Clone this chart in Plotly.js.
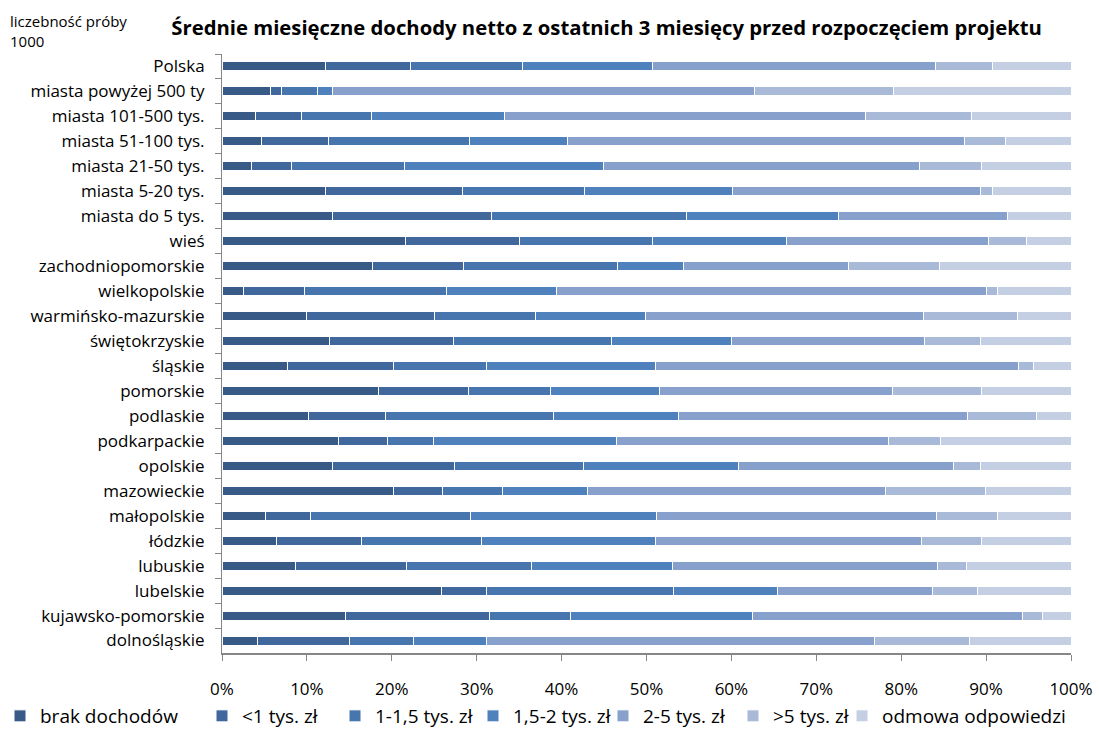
<!DOCTYPE html>
<html lang="pl">
<head>
<meta charset="utf-8">
<title>Średnie miesięczne dochody netto</title>
<script src="https://cdn.plot.ly/plotly-3.0.1.min.js"></script>
<style>
  html, body { margin: 0; padding: 0; background: #ffffff; }
  #chart { width: 1099px; height: 730px; }
</style>
</head>
<body>
<div id="chart"></div>
<script>
// Categories, top to bottom
const categories = [
  "Polska",
  "miasta powyżej 500 ty",
  "miasta 101-500 tys.",
  "miasta 51-100 tys.",
  "miasta 21-50 tys.",
  "miasta 5-20 tys.",
  "miasta do 5 tys.",
  "wieś",
  "zachodniopomorskie",
  "wielkopolskie",
  "warmińsko-mazurskie",
  "świętokrzyskie",
  "śląskie",
  "pomorskie",
  "podlaskie",
  "podkarpackie",
  "opolskie",
  "mazowieckie",
  "małopolskie",
  "łódzkie",
  "lubuskie",
  "lubelskie",
  "kujawsko-pomorskie",
  "dolnośląskie"
];

// Shares (%) per income bracket, same order as categories
const brakDochodow = [12.2, 5.7, 3.9, 4.7, 3.5, 12.2, 13.0, 21.6, 17.7, 2.5, 9.9, 12.7, 7.7, 18.4, 10.2, 13.7, 13.0, 20.2, 5.1, 6.4, 8.6, 25.8, 14.5, 4.2];
const ponizej1  = [10.0, 1.3, 5.5, 7.8, 4.7, 16.1, 18.7, 13.4, 10.7, 7.2, 15.1, 14.6, 12.5, 10.6, 9.0, 5.8, 14.4, 5.8, 5.3, 10.0, 13.1, 5.3, 17.0, 10.8];
const od1do15   = [13.2, 4.2, 8.2, 16.7, 13.3, 14.4, 23.0, 15.7, 18.2, 16.8, 11.9, 18.6, 11.0, 9.7, 19.8, 5.4, 15.2, 7.0, 18.9, 14.2, 14.8, 22.1, 9.5, 7.5];
const od15do2   = [15.3, 1.8, 15.7, 11.5, 23.4, 17.4, 17.9, 15.8, 7.8, 12.9, 13.0, 14.1, 19.9, 12.8, 14.8, 21.6, 18.2, 10.0, 21.9, 20.5, 16.6, 12.2, 21.5, 8.7];
const od2do5    = [33.3, 49.7, 42.5, 46.8, 37.2, 29.2, 19.9, 23.8, 19.4, 50.7, 32.7, 22.8, 42.7, 27.5, 34.0, 32.0, 25.4, 35.1, 32.9, 31.3, 31.2, 18.3, 31.8, 45.6];
const powyzej5  = [6.7, 16.4, 12.5, 4.8, 7.4, 1.5, 0.0, 4.5, 10.7, 1.2, 11.1, 6.5, 1.8, 10.4, 8.1, 6.1, 3.1, 11.8, 7.3, 7.1, 3.4, 5.3, 2.3, 11.2];
const odmowa    = [9.3, 21.0, 11.7, 7.7, 10.5, 9.2, 7.5, 5.2, 15.5, 8.7, 6.3, 10.7, 4.4, 10.6, 4.1, 15.4, 10.7, 10.1, 8.6, 10.5, 12.3, 11.0, 3.4, 12.0];

const seriesNames = ["brak dochodów", "<1 tys. zł", "1-1,5 tys. zł", "1,5-2 tys. zł", "2-5 tys. zł", ">5 tys. zł", "odmowa odpowiedzi"];
const seriesValues = [brakDochodow, ponizej1, od1do15, od15do2, od2do5, powyzej5, odmowa];
const seriesColors = ["#375A87", "#41689C", "#4775AE", "#4F81BD", "#87A1CC", "#A9B9D8", "#C4CFE3"];

const FONT = "'Open Sans', 'Noto Sans', sans-serif";
const W = 1099, H = 730;

// Each series gets its own legend box so the legend row spreads across the page
const legendLeft = [0, 202, 335, 473, 603, 733, 842];
const legendIds = seriesNames.map((_, i) => (i === 0 ? "legend" : "legend" + (i + 1)));

const traces = seriesNames.map((name, i) => ({
  type: "bar",
  orientation: "h",
  name: name,
  legend: legendIds[i],
  y: categories,
  x: seriesValues[i],
  marker: { color: seriesColors[i], line: { color: "#ffffff", width: 1 } },
  hoverinfo: "y+x+name"
}));

const layout = {
  width: W,
  height: H,
  paper_bgcolor: "#ffffff",
  plot_bgcolor: "#ffffff",
  barmode: "stack",
  bargap: 0.64,
  margin: { l: 222, r: 27.5, t: 53.5, b: 76.5, pad: 0, autoexpand: false },
  font: { family: FONT, size: 16, color: "#000000" },
  title: {
    text: "<b>Średnie miesięczne dochody netto z ostatnich 3 miesięcy przed rozpoczęciem projektu</b>",
    font: { family: FONT, size: 20.3, color: "#000000" },
    xref: "paper", x: 0.453, xanchor: "center",
    yref: "container", y: 1 - 28 / H, yanchor: "middle"
  },
  xaxis: {
    range: [0, 100],
    tickmode: "linear",
    tick0: 0,
    dtick: 10,
    ticksuffix: "%",
    ticks: "outside",
    ticklen: 6,
    tickcolor: "#868686",
    showline: true,
    linecolor: "#868686",
    linewidth: 2,
    showgrid: false,
    zeroline: false,
    ticklabelstandoff: 14,
    tickfont: { family: FONT, size: 17, color: "#000000" }
  },
  yaxis: {
    type: "category",
    categoryorder: "array",
    categoryarray: categories,
    autorange: "reversed",
    ticks: "outside",
    tickson: "boundaries",
    ticklen: 6,
    tickcolor: "#868686",
    showline: true,
    linecolor: "#868686",
    linewidth: 1,
    showgrid: false,
    zeroline: false,
    ticklabelstandoff: 13,
    tickfont: { family: FONT, size: 17, color: "#000000" }
  },
  annotations: [
    {
      text: "liczebność próby<br>1000",
      xref: "paper", yref: "paper",
      x: -0.252, xanchor: "left",
      y: 1 + (53.5 - 8) / 600, yanchor: "top",
      align: "left",
      showarrow: false,
      font: { family: FONT, size: 15, color: "#000000" }
    }
  ],
  showlegend: true
};

legendIds.forEach((id, i) => {
  layout[id] = {
    orientation: "h",
    xref: "container", x: legendLeft[i] / W, xanchor: "left",
    yref: "container", y: 1 - 716 / H, yanchor: "middle",
    bgcolor: "rgba(0,0,0,0)",
    font: { family: FONT, size: 19, color: "#000000" },
    itemwidth: 30
  };
});

Plotly.newPlot("chart", traces, layout, { displayModeBar: false, staticPlot: true });
</script>
</body>
</html>
